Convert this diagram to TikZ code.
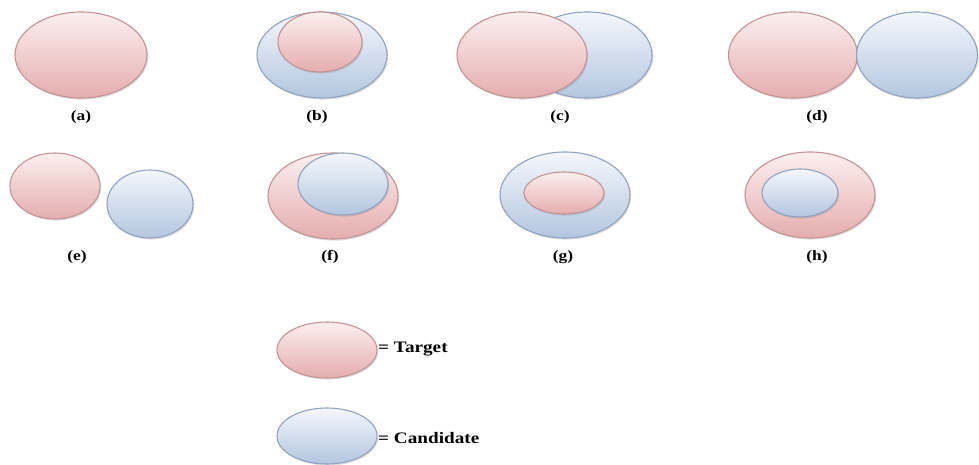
\documentclass[tikz,border=0pt]{standalone}
\usepackage{fontspec}
\setmainfont{Liberation Serif}
\newfontfamily\labelfont[FakeStretch=1.2]{Liberation Serif}
\usetikzlibrary{shapes.geometric,shadows}

\definecolor{tgtTop}{HTML}{FCEFEF}
\definecolor{tgtBot}{HTML}{E5ADAE}
\definecolor{tgtLine}{HTML}{C39394}
\definecolor{cndTop}{HTML}{F4F7FC}
\definecolor{cndBot}{HTML}{B3C6DF}
\definecolor{cndLine}{HTML}{8FA3C1}

\tikzset{
  blob/.style 2 args={ellipse, inner sep=0pt, minimum width=#1, minimum height=#2,
    line width=1.1pt, drop shadow={shadow xshift=1.2pt, shadow yshift=-1.6pt, opacity=0.25}},
  target/.style={top color=tgtTop, bottom color=tgtBot, draw=tgtLine},
  candidate/.style={top color=cndTop, bottom color=cndBot, draw=cndLine},
  caption/.style={font=\labelfont\bfseries\fontsize{14.5}{16}\selectfont},
  legendtext/.style={anchor=west, inner sep=0pt, font=\labelfont\bfseries\fontsize{16}{18}\selectfont},
}

\begin{document}
\begin{tikzpicture}[x=1pt, y=-1pt]
  \useasboundingbox (0,0) rectangle (979,465);

  % (a) target only
  \node[blob={132pt}{86pt}, target] (a1) at (81,55) {};
  \node[caption] (la) at (81,117) {(a)};

  % (b) target inside candidate, touching the top
  \node[blob={130pt}{86pt}, candidate] (b2) at (322,55) {};
  \node[blob={84pt}{60pt}, target] (b1) at (320,42) {};
  \node[caption] (lb) at (317,117) {(b)};

  % (c) partial overlap
  \node[blob={130pt}{86pt}, candidate] (c2) at (587,55) {};
  \node[blob={130pt}{86pt}, target] (c1) at (522,55) {};
  \node[caption] (lc) at (560,117) {(c)};

  % (d) touching
  \node[blob={129pt}{86pt}, target] (d1) at (793,55) {};
  \node[blob={121pt}{86pt}, candidate] (d2) at (917,55) {};
  \node[caption] (ld) at (817,117) {(d)};

  % (e) disjoint
  \node[blob={90pt}{66pt}, target] (e1) at (55,186) {};
  \node[blob={86pt}{68pt}, candidate] (e2) at (150,204) {};
  \node[caption] (le) at (77,257) {(e)};

  % (f) candidate inside target, touching the top
  \node[blob={130pt}{86pt}, target] (f1) at (333,196) {};
  \node[blob={90pt}{62pt}, candidate] (f2) at (343,184) {};
  \node[caption] (lf) at (330,257) {(f)};

  % (g) target strictly inside candidate
  \node[blob={130pt}{86pt}, candidate] (g2) at (565,195) {};
  \node[blob={80pt}{42pt}, target] (g1) at (564,193) {};
  \node[caption] (lg) at (563,257) {(g)};

  % (h) candidate strictly inside target
  \node[blob={130pt}{86pt}, target] (h1) at (810,195) {};
  \node[blob={76pt}{48pt}, candidate] (h2) at (800,193) {};
  \node[caption] (lh) at (817,257) {(h)};

  % legend
  \node[blob={100pt}{56pt}, target] (kt) at (327,350) {};
  \node[legendtext] (ktl) at (378,349) {= Target};
  \node[blob={100pt}{56pt}, candidate] (kc) at (327,436) {};
  \node[legendtext] (kcl) at (378,438) {= Candidate};
\end{tikzpicture}
\end{document}
